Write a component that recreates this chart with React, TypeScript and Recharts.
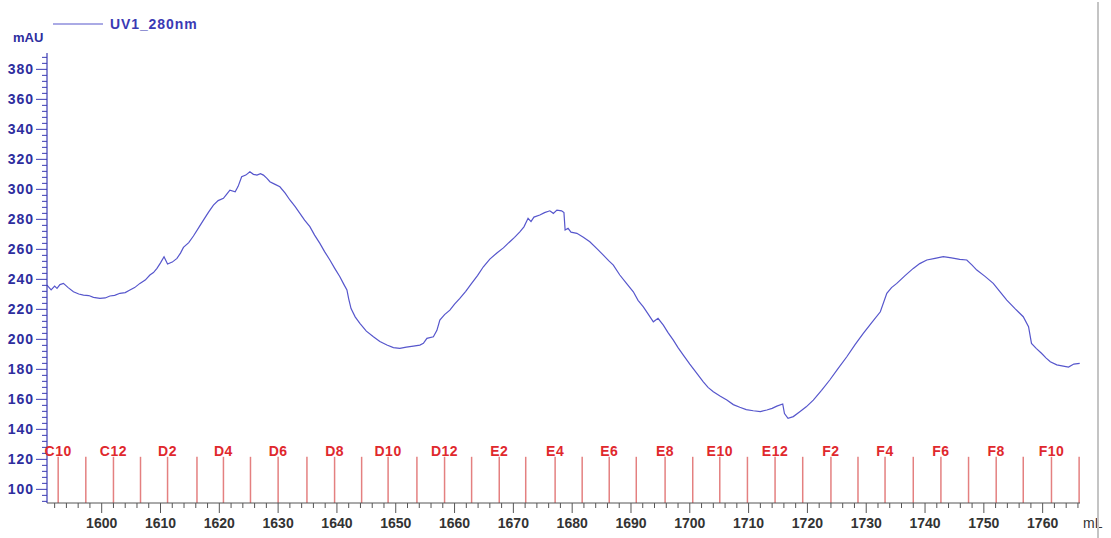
import React from 'react';
import { LineChart, Line, XAxis, YAxis, ReferenceLine } from 'recharts';

// Elution volume (mL) and UV absorbance at 280 nm (mAU)
const volumeMl = [
  1590.7, 1591.4, 1592.0, 1592.4, 1592.9, 1593.5, 1594.3, 1595.2, 1596.1, 1596.9,
  1597.8, 1598.6, 1599.7, 1600.6, 1601.4, 1602.2, 1603.1, 1604.0, 1604.8, 1605.6,
  1606.5, 1607.4, 1608.2, 1608.8, 1609.4, 1610.0, 1610.6, 1611.2, 1612.0, 1612.8,
  1613.4, 1613.9, 1614.8, 1615.6, 1616.5, 1617.3, 1618.2, 1619.0, 1619.8, 1620.7,
  1621.3, 1621.8, 1622.7, 1623.2, 1623.8, 1624.5, 1625.2, 1625.8, 1626.4, 1627.0,
  1627.5, 1628.1, 1628.6, 1629.4, 1630.3, 1631.2, 1632.0, 1632.9, 1633.7, 1634.5,
  1635.4, 1636.2, 1637.1, 1637.9, 1638.8, 1639.6, 1640.5, 1641.2, 1641.7, 1642.0,
  1642.4, 1643.1, 1643.9, 1645.0, 1646.2, 1647.3, 1648.5, 1649.6, 1650.7, 1651.8,
  1653.0, 1654.1, 1654.7, 1655.3, 1656.4, 1657.0, 1657.5, 1658.3, 1659.2, 1660.0,
  1660.9, 1661.9, 1662.9, 1663.9, 1664.9, 1666.0, 1667.2, 1668.3, 1669.4, 1670.2,
  1671.1, 1671.8, 1672.5, 1673.0, 1673.5, 1674.5, 1675.3, 1676.2, 1676.8, 1677.4,
  1678.2, 1678.6, 1678.8, 1679.3, 1679.8, 1680.8, 1681.9, 1683.0, 1684.2, 1685.3,
  1686.2, 1687.0, 1688.1, 1689.2, 1690.4, 1691.2, 1692.1, 1692.9, 1693.8, 1694.6,
  1695.5, 1696.3, 1697.2, 1698.0, 1698.9, 1700.0, 1701.2, 1702.3, 1703.1, 1704.0,
  1705.2, 1706.3, 1707.4, 1708.5, 1709.6, 1710.8, 1712.0, 1713.1, 1714.0, 1714.8,
  1715.8, 1716.1, 1716.7, 1717.6, 1718.7, 1719.8, 1721.0, 1722.4, 1723.8, 1725.2,
  1726.7, 1728.1, 1729.5, 1731.0, 1732.4, 1733.5, 1734.3, 1735.2, 1736.6, 1738.0,
  1739.1, 1740.3, 1741.7, 1743.1, 1744.5, 1745.9, 1747.1, 1748.0, 1748.8, 1750.2,
  1751.6, 1752.8, 1753.9, 1755.3, 1756.7, 1757.6, 1758.1, 1758.9, 1759.8, 1760.6,
  1761.3, 1762.4, 1763.5, 1764.4, 1765.3, 1766.3,
];

const uv280 = [
  236.2, 233.0, 235.5, 234.0, 236.5, 237.3, 234.5, 231.7, 230.2, 229.5,
  229.2, 228.0, 227.3, 227.6, 228.9, 229.3, 230.7, 231.2, 232.9, 234.5,
  237.3, 239.5, 242.9, 244.5, 247.3, 251.0, 255.1, 250.2, 251.5, 254.0,
  257.5, 261.3, 264.5, 268.9, 274.5, 279.5, 285.0, 289.5, 292.5, 294.0,
  297.0, 299.5, 298.4, 302.0, 308.4, 309.5, 311.7, 310.0, 309.5, 310.5,
  309.5, 307.3, 305.1, 303.5, 301.7, 297.5, 292.9, 288.5, 284.0, 279.5,
  275.1, 269.5, 264.0, 258.5, 252.9, 247.5, 241.7, 236.5, 232.9, 227.0,
  220.5, 215.0, 210.7, 205.5, 201.7, 198.5, 196.2, 194.5, 194.0, 194.8,
  195.5, 196.2, 197.3, 200.7, 201.7, 206.0, 212.9, 216.5, 219.5, 223.5,
  227.3, 232.0, 237.3, 242.5, 248.4, 253.5, 257.6, 261.0, 265.1, 268.0,
  271.7, 275.0, 280.7, 278.5, 281.5, 282.9, 284.5, 285.7, 284.0, 286.2,
  285.7, 284.5, 272.9, 274.0, 271.5, 270.7, 268.0, 265.1, 260.5, 256.2,
  252.5, 249.5, 242.9, 237.5, 231.7, 226.0, 221.7, 217.0, 211.7, 214.0,
  209.5, 204.5, 199.5, 194.5, 189.5, 183.5, 177.3, 171.7, 168.0, 165.1,
  162.0, 159.5, 156.5, 154.7, 153.2, 152.4, 151.8, 152.9, 154.0, 155.5,
  156.9, 150.5, 147.3, 148.5, 151.7, 155.0, 159.5, 166.0, 172.9, 180.5,
  188.4, 196.5, 204.0, 211.5, 218.4, 230.7, 234.5, 237.3, 242.5, 247.3,
  250.5, 252.9, 254.0, 255.1, 254.3, 253.3, 252.9, 249.5, 246.2, 242.0,
  237.3, 231.5, 226.2, 220.5, 215.1, 208.4, 197.3, 194.0, 190.7, 187.5,
  185.1, 183.0, 182.2, 181.5, 183.5, 184.0,
];

// Fraction collector marks: well names and the volume where each fraction starts
const fractionNames = [
  'C10', 'C11', 'C12', 'D1', 'D2', 'D3', 'D4', 'D5', 'D6', 'D7', 'D8', 'D9', 'D10',
  'D11', 'D12', 'E1', 'E2', 'E3', 'E4', 'E5', 'E6', 'E7', 'E8', 'E9', 'E10', 'E11',
  'E12', 'F1', 'F2', 'F3', 'F4', 'F5', 'F6', 'F7', 'F8', 'F9', 'F10', 'F11',
];
const fractionStartMl = [
  1592.6, 1597.3, 1602.0, 1606.6, 1611.2, 1616.2, 1620.7, 1625.3, 1630.0, 1634.9,
  1639.6, 1644.2, 1648.7, 1653.6, 1658.3, 1662.9, 1667.6, 1672.1, 1677.1, 1681.7,
  1686.3, 1690.9, 1695.8, 1700.5, 1705.1, 1709.8, 1714.5, 1719.2, 1724.0, 1728.6,
  1733.2, 1738.0, 1742.7, 1747.4, 1752.1, 1756.7, 1761.5, 1766.2,
];
const fractionMarkTop = 121.7;

// Axis ranges and ticks
const xDomain: [number, number] = [1590.7, 1766.35];
const yDomain: [number, number] = [90.9, 390.9];
const xTicks: number[] = [];
for (let v = 1592; v <= 1766; v += 2) xTicks.push(v);
const yTicks: number[] = [];
for (let v = 92; v <= 388; v += 4) yTicks.push(v);

const FONT = '"Liberation Sans", Arial, sans-serif';
const TRACE = '#5656cc';
const AXIS_BLUE = '#3c3cb4';
const LABEL_BLUE = '#2d2d9e';
const FRACTION_LINE = '#e48080';
const FRACTION_TEXT = '#e0282d';

const chartData = volumeMl.map((ml, i) => ({ ml, mau: uv280[i] }));

const YTick = (props: any) => {
  const { x, y, payload } = props;
  const v = payload.value as number;
  const major = v % 20 === 0;
  return (
    <g>
      <line x1={x - (major ? 11 : 5)} x2={x} y1={y} y2={y} stroke={AXIS_BLUE} strokeWidth={1} />
      {major && (
        <text
          x={x - 13}
          y={y}
          dy={5}
          textAnchor="end"
          fill={LABEL_BLUE}
          fontFamily={FONT}
          fontWeight="bold"
          fontSize={14}
          letterSpacing={1}
        >
          {v}
        </text>
      )}
    </g>
  );
};

const XTick = (props: any) => {
  const { x, y, payload } = props;
  const v = payload.value as number;
  const major = v % 10 === 0;
  return (
    <g>
      <line x1={x} x2={x} y1={y} y2={y + (major ? 10 : 5)} stroke="#555" strokeWidth={1} />
      {major && (
        <text
          x={x}
          y={y + 25}
          textAnchor="middle"
          fill="#333"
          fontFamily={FONT}
          fontWeight="bold"
          fontSize={14}
        >
          {v}
        </text>
      )}
    </g>
  );
};

const showFractionLabel = (name: string) => parseInt(name.slice(1), 10) % 2 === 0;

export default function App() {
  return (
    <div style={{ position: 'absolute', left: 0, top: 0, width: 1111, height: 538, background: '#fff' }}>
      <LineChart
        width={1111}
        height={538}
        data={chartData}
        margin={{ top: 53, right: 31, bottom: 0, left: 0 }}
      >
        <XAxis
          dataKey="ml"
          type="number"
          domain={xDomain}
          ticks={xTicks}
          interval={0}
          allowDataOverflow
          height={35}
          tickSize={0}
          tickMargin={0}
          tick={<XTick />}
          axisLine={{ stroke: '#555', strokeWidth: 1 }}
          label={(p: any) => {
            const vb = p.viewBox;
            return (
              <text
                x={vb.x + vb.width + 3}
                y={vb.y + 25}
                fill="#333"
                fontFamily={FONT}
                fontSize={14}
              >
                mL
              </text>
            );
          }}
        />
        <YAxis
          type="number"
          domain={yDomain}
          ticks={yTicks}
          interval={0}
          allowDataOverflow
          width={47}
          tickSize={0}
          tickMargin={0}
          tick={<YTick />}
          axisLine={{ stroke: AXIS_BLUE, strokeWidth: 1.2 }}
          label={(p: any) => {
            const vb = p.viewBox;
            return (
              <text
                x={vb.x + 13}
                y={vb.y - 11}
                fill={LABEL_BLUE}
                fontFamily={FONT}
                fontWeight="bold"
                fontSize={13}
              >
                mAU
              </text>
            );
          }}
        />
        {fractionNames.map((name, i) => (
          <ReferenceLine
            key={name}
            segment={[
              { x: fractionStartMl[i], y: yDomain[0] },
              { x: fractionStartMl[i], y: fractionMarkTop },
            ]}
            stroke={FRACTION_LINE}
            strokeWidth={1.5}
            label={
              showFractionLabel(name)
                ? {
                    value: name,
                    position: 'top',
                    offset: 1,
                    fill: FRACTION_TEXT,
                    fontSize: 14,
                    fontWeight: 'bold',
                    fontFamily: FONT,
                    letterSpacing: 0.5,
                  }
                : undefined
            }
          />
        ))}
        <Line
          type="linear"
          dataKey="mau"
          stroke={TRACE}
          strokeWidth={1.2}
          dot={false}
          isAnimationActive={false}
        />
      </LineChart>
      <svg
        width={260}
        height={40}
        style={{ position: 'absolute', left: 0, top: 0 }}
      >
        <line x1={53} x2={103} y1={24} y2={24} stroke={TRACE} strokeWidth={1.2} />
        <text
          x={110}
          y={29}
          fill="#3a3ab4"
          fontFamily={FONT}
          fontWeight="bold"
          fontSize={14}
          letterSpacing={0.9}
        >
          UV1_280nm
        </text>
      </svg>
      <div
        style={{
          position: 'absolute',
          left: 1097,
          top: 2,
          width: 0,
          height: 536,
          borderLeft: '2px solid #c4c4c4',
        }}
      />
    </div>
  );
}
